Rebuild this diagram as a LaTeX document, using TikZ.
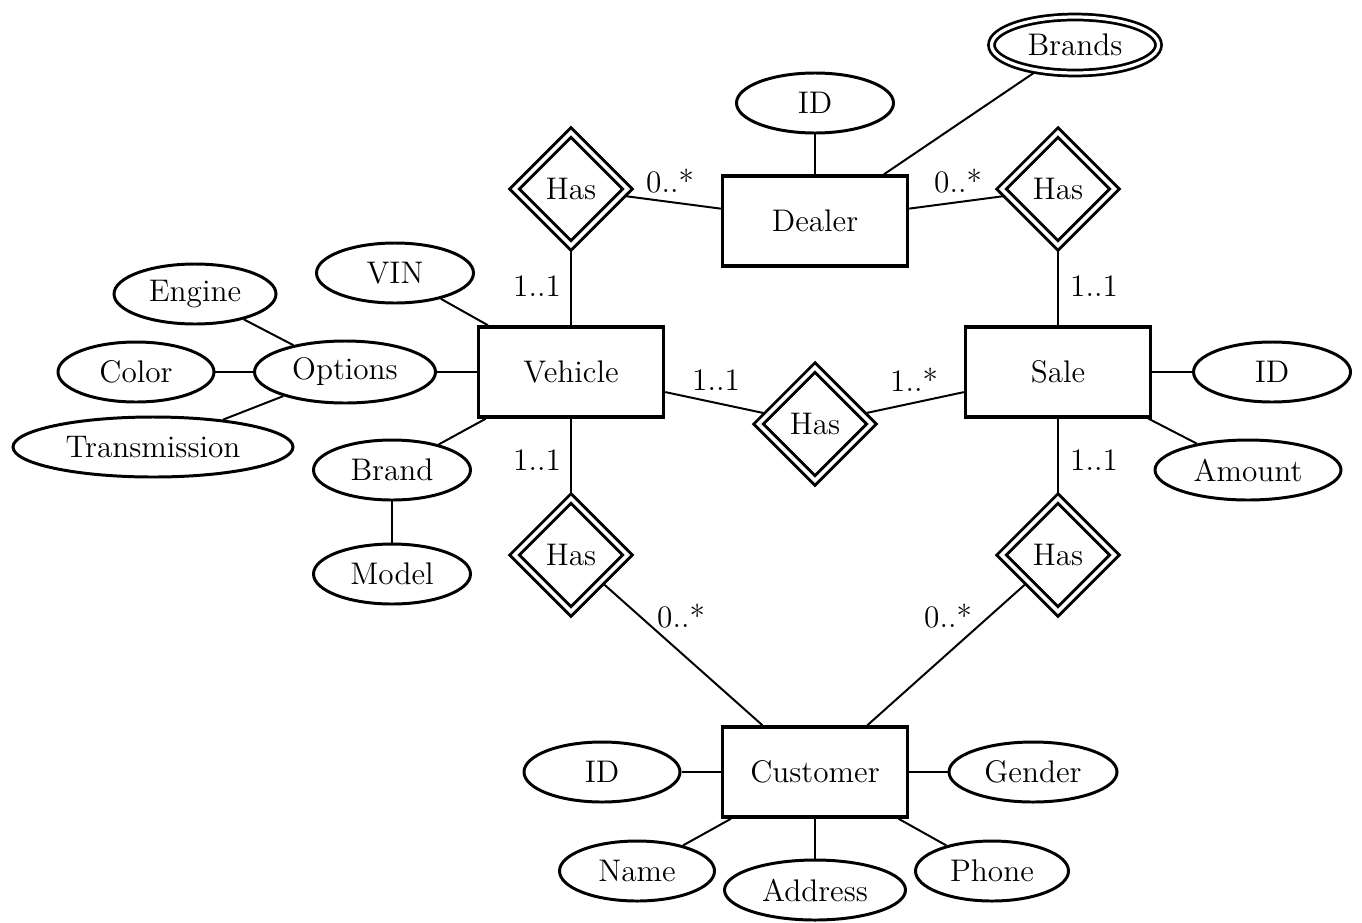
\documentclass[tikz,border=0pt]{standalone}
\usepackage{fontspec}
\usetikzlibrary{shapes.geometric,backgrounds}
\begin{document}
\begin{tikzpicture}[x=0.4032pt,y=-0.4032pt,
  font=\fontsize{12.6pt}{15pt}\selectfont,
  sz/.style 2 args={minimum width=#1*0.4032pt, minimum height=#2*0.4032pt},
  entity/.style={draw, rectangle, line width=1.4pt, fill=white, inner sep=0pt, sz={185}{90}},
  attr/.style={draw, ellipse, line width=1.2pt, fill=white, inner sep=0pt, sz={157}{60}},
  mattr/.style={attr, double, line width=1.1pt, double distance=1.3pt},
  rel/.style={draw, diamond, aspect=1, double, line width=1.2pt, double distance=1.5pt, fill=white, inner sep=0pt, minimum width=46pt, minimum height=46pt},
  conn/.style={line width=0.8pt},
  card/.style={inner sep=0pt}]
\useasboundingbox (0,0) rectangle (1362,922);
% entities
\node[entity] (dealer) at (815,221) {Dealer};
\node[entity] (vehicle) at (571,372) {Vehicle};
\node[entity] (sale) at (1058,372) {Sale};
\node[entity] (customer) at (815,772) {Customer};
% relationships
\node[rel] (hasDV) at (571,189) {Has};
\node[rel] (hasDS) at (1058,189) {Has};
\node[rel] (hasVS) at (815,424) {Has};
\node[rel] (hasVC) at (571,555) {Has};
\node[rel] (hasSC) at (1058,555) {Has};
% attributes
\node[attr] (did) at (815,103) {ID};
\node[mattr, sz={167}{56}] (brands) at (1075,45) {Brands};
\node[attr] (vin) at (395,273) {VIN};
\node[attr, sz={162}{60}] (engine) at (195,294) {Engine};
\node[attr, sz={181}{62}] (options) at (345,372) {Options};
\node[attr, sz={156}{60}] (color) at (136,372) {Color};
\node[attr, sz={280}{60}] (trans) at (153,447) {Transmission};
\node[attr] (brand) at (392,470) {Brand};
\node[attr] (model) at (392,574) {Model};
\node[attr] (sid) at (1272,372) {ID};
\node[attr, sz={186}{60}] (amount) at (1248,470) {Amount};
\node[attr, sz={156}{60}] (cid) at (602,772) {ID};
\node[attr, sz={168}{60}] (gender) at (1033,772) {Gender};
\node[attr, sz={155}{60}] (name) at (637,871) {Name};
\node[attr, sz={181}{60}] (address) at (815,890) {Address};
\node[attr, sz={153}{60}] (phone) at (992,871) {Phone};
% cardinalities
\node[card] (c1) at (670,181) {0..*};
\node[card] (c2) at (537,286) {1..1};
\node[card] (c3) at (958,181) {0..*};
\node[card] (c4) at (1094,286) {1..1};
\node[card] (c5) at (716,380) {1..1};
\node[card] (c6) at (914,380) {1..*};
\node[card] (c7) at (537,460) {1..1};
\node[card] (c8) at (1094,460) {1..1};
\node[card] (c9) at (681,616) {0..*};
\node[card] (c10) at (948,616) {0..*};
% connectors
\begin{scope}[on background layer]
\draw[conn] (hasDV) -- (dealer);
\draw[conn] (hasDV) -- (vehicle);
\draw[conn] (dealer) -- (hasDS);
\draw[conn] (hasDS) -- (sale);
\draw[conn] (vehicle) -- (hasVS);
\draw[conn] (hasVS) -- (sale);
\draw[conn] (vehicle) -- (hasVC);
\draw[conn] (sale) -- (hasSC);
\draw[conn] (hasVC) -- (customer);
\draw[conn] (hasSC) -- (customer);
\draw[conn] (dealer) -- (did);
\draw[conn] (dealer) -- (brands);
\draw[conn] (vehicle) -- (vin);
\draw[conn] (vehicle) -- (options);
\draw[conn] (vehicle) -- (brand);
\draw[conn] (brand) -- (model);
\draw[conn] (options) -- (engine);
\draw[conn] (options) -- (color);
\draw[conn] (options) -- (trans);
\draw[conn] (sale) -- (sid);
\draw[conn] (sale) -- (amount);
\draw[conn] (customer) -- (cid);
\draw[conn] (customer) -- (gender);
\draw[conn] (customer) -- (name);
\draw[conn] (customer) -- (address);
\draw[conn] (customer) -- (phone);
\end{scope}
\end{tikzpicture}
\end{document}
